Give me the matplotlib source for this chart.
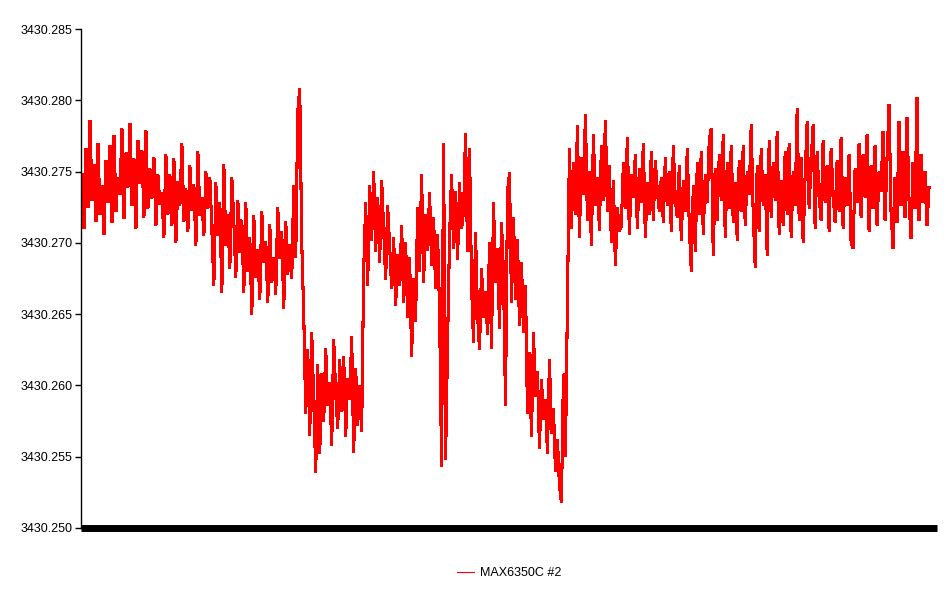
import numpy as np
import matplotlib
matplotlib.use("Agg")
import matplotlib.pyplot as plt
from matplotlib.ticker import FormatStrFormatter

# readings of MAX6350C #2, stored as offset above the baseline in thousandths
baseline = 3430.250
series_label = "MAX6350C #2"
y_ticks = [3430.250, 3430.255, 3430.260, 3430.265, 3430.270, 3430.275, 3430.280, 3430.285]

readings = [
    # stable start
    24.8, 21.0, 26.6, 22.5, 28.6, 23.0, 25.5, 21.5, 27.0, 22.0,
    24.0, 20.6, 25.8, 22.8, 26.8, 21.4, 27.5, 22.2, 24.6, 23.4,
    28.0, 21.7, 26.3, 23.9, 28.4, 22.6, 25.9, 21.0, 27.2, 24.2,
    26.5, 21.8, 27.9, 22.4, 25.2, 23.1, 26.0, 21.2, 24.8, 22.7,
    23.5, 20.4, 26.2, 22.0, 24.8, 21.2, 25.9, 20.0, 24.3, 22.6,
    27.0, 21.5, 23.8, 20.8, 25.4, 22.3, 24.1, 19.8, 26.4, 21.9,
    23.2, 20.5, 25.0, 22.4, 24.6,
    # slow drift down
    21.0, 17.0, 24.2, 20.5, 22.8, 16.5, 25.5, 19.8, 22.0, 18.2,
    24.6, 21.5, 17.6, 23.0, 19.3,
    21.6, 16.5, 22.8, 18.0, 20.4, 15.0, 21.9, 17.6, 19.5, 16.0,
    22.2, 18.6, 20.1, 15.8, 21.3, 17.2, 19.0, 16.4, 22.5, 18.9,
    20.8, 15.4, 21.5, 17.8, 19.9,
    17.5, 24.0, 19.0, 29.2, 30.8,
    # first dip
    20.0, 15.0, 8.0, 12.5, 6.5, 13.7, 9.0, 3.9, 11.5, 5.2,
    10.8, 7.5, 12.6, 8.6, 10.2, 5.8, 13.2, 9.4, 7.0, 11.8,
    8.2, 12.0, 6.4, 10.5, 9.0, 13.4, 5.3, 11.2, 7.2, 10.0,
    6.8,
    # recovery
    18.0, 22.8, 17.0, 24.0, 20.2, 25.0, 19.4, 23.2, 18.6, 24.4,
    21.0, 17.4, 22.6, 19.8, 16.8, 20.4, 15.6, 19.2, 17.0, 21.2,
    15.8, 20.0, 14.8, 19.0,
    12.0, 17.5, 14.5, 22.5, 18.0, 24.8, 17.2, 22.0, 19.5, 23.5,
    18.4, 21.8, 16.8, 20.6, 15.2,
    4.3, 27.0, 4.8, 13.0,
    20.4, 24.8, 19.6, 23.6, 18.8, 24.2, 21.0, 22.2, 27.7, 19.4, 26.6,
    17.0, 13.0, 20.7, 15.0, 12.5, 18.2, 14.8, 16.6, 13.6, 20.0,
    12.6, 22.8, 17.2, 19.6, 14.0, 21.4, 17.8, 8.6, 23.6, 24.9,
    15.8, 21.8,
    16.0, 20.2, 14.2, 18.6, 13.7, 17.0,
    # second dip
    8.0, 12.3, 6.4, 13.7, 9.2, 11.0, 5.6, 10.4, 7.6,
    9.0, 5.2, 11.8, 6.6, 8.4, 4.0, 6.2, 3.0, 1.8, 10.8, 5.0,
    # back to stable
    16.1, 26.6, 21.0, 25.6, 22.0, 28.2, 20.4, 26.0, 23.4, 29.0,
    21.6, 25.0, 19.8, 27.6, 22.6, 24.6, 20.9, 26.8, 23.0, 28.6,
    22.2, 25.4, 20.0, 24.4, 18.4, 22.5, 20.8,
    21.2, 25.6, 22.4, 27.4, 20.6, 24.8, 23.2, 26.2, 21.0, 25.2,
    22.8, 27.0, 20.4, 24.2, 22.0, 26.4, 21.6, 25.8, 23.6, 22.2,
    24.6, 21.4, 26.0, 22.6, 25.0, 20.8, 26.8, 23.0, 21.8, 25.4,
    20.2, 24.4, 22.2, 26.6, 21.2, 18.0, 24.0, 19.4, 25.6, 22.0,
    26.4, 20.6, 24.8, 22.8, 27.2, 28.0, 19.1, 25.2, 21.6, 26.2,
    23.0, 27.6, 20.4, 25.6, 22.4, 26.8, 21.4, 24.2, 20.2, 25.8,
    22.2, 26.8, 21.2, 25.0, 23.4, 28.3, 22.0, 18.3, 25.4, 20.8,
    26.6, 22.6, 24.8, 19.1, 27.2, 21.8, 25.6, 23.0, 27.8, 20.6,
    24.4, 21.2, 26.4, 22.0, 27.0, 20.4, 25.0, 22.6, 29.4, 21.6,
    26.0, 20.0, 24.8, 28.5, 22.4, 25.8, 28.3, 21.0, 26.4, 23.2,
    21.6, 27.2, 22.8, 25.4, 20.8, 26.6, 23.4, 21.4, 25.8, 22.2,
    27.4, 21.0, 24.6, 22.6, 26.2, 20.0, 19.6, 25.2, 22.8, 27.0,
    21.8, 26.2, 23.2, 27.6, 20.8, 25.4, 22.4, 26.8, 21.2, 25.0,
    23.6, 27.8, 21.6, 26.0, 29.7, 22.2, 19.6, 24.6, 21.4, 28.5,
    22.6, 26.4, 21.8, 28.8, 23.0, 20.3, 25.6, 22.4, 30.2, 21.6,
    26.2, 22.8, 25.0, 21.2, 23.9,
]

values = baseline + np.array(readings) / 1000.0
x = np.arange(len(values))

plt.rcParams['font.family'] = ['Liberation Sans', 'DejaVu Sans']

fig = plt.figure(figsize=(9.5, 5.91), dpi=100)
ax = fig.add_axes([81 / 950, 1 - 528 / 591, (937 - 81) / 950, (528 - 29) / 591])

# thick line so the 2px-spaced samples fill in like the dense original trace
ax.plot(x, values, color='#ff0000', linewidth=1.5, solid_joinstyle='miter',
        antialiased=False, label=series_label)

n = len(values)
step = (929 - 82) / (n - 1)
ax.set_xlim(-1 / step, (n - 1) + 8 / step)
ax.set_ylim(y_ticks[0], y_ticks[-1])
ax.set_yticks(y_ticks)
ax.yaxis.set_major_formatter(FormatStrFormatter('%.3f'))
ax.tick_params(axis='y', direction='out', length=4.5, width=1, pad=1.5, labelsize=9, colors='black')
ax.set_xticks([])

for side in ['top', 'right']:
    ax.spines[side].set_visible(False)
ax.spines['left'].set_linewidth(1)
ax.spines['bottom'].set_linewidth(5)
ax.spines['bottom'].set_capstyle('butt')

leg = fig.legend(loc='center', bbox_to_anchor=(0.536, 0.030), frameon=False,
                 handlelength=1.4, handletextpad=0.5, fontsize=9)
for h in leg.get_lines():
    h.set_linewidth(0.8)

fig.savefig('out.png', dpi=100)
